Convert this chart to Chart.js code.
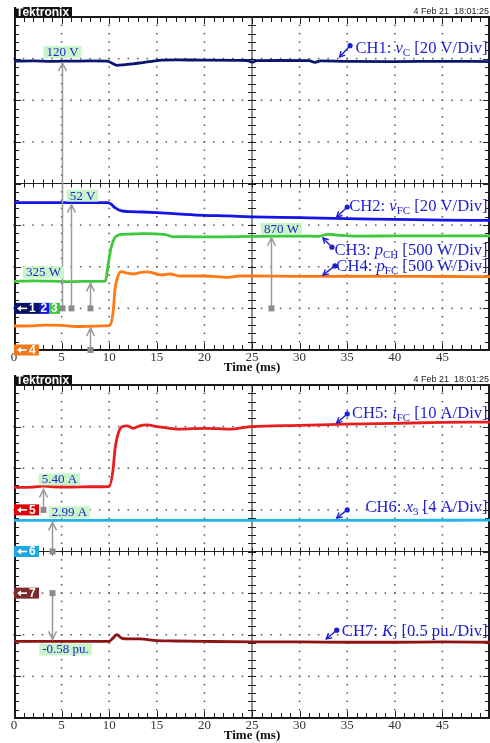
<!DOCTYPE html>
<html>
<head>
<meta charset="utf-8">
<script src="https://cdn.jsdelivr.net/npm/chart.js@4/dist/chart.umd.min.js"></script>
<style>
  html, body { margin: 0; padding: 0; background: #fff; }
  body { width: 490px; height: 743px; position: relative; overflow: hidden; }
  canvas { position: absolute; left: 0; }
  #scopeTop { top: 0; }
  #scopeBottom { top: 373px; }
</style>
</head>
<body>
<canvas id="scopeTop" width="490" height="375"></canvas>
<canvas id="scopeBottom" width="490" height="370"></canvas>
<script>
// ---- time axis (ms) ----
const timeTicks = [0, 5, 10, 15, 20, 25, 30, 35, 40, 45];

// ---- CH1: capacitor voltage vC (V) ----
const ch1Time  = [0, 2, 4, 6, 8, 9.8, 10.3, 10.8, 11.5, 12.5, 13.5, 14.5, 15.5, 17, 20, 24.5, 25, 25.5, 28, 31, 31.6, 32.2, 35, 40, 45, 50];
const ch1Volts = [120, 120.1, 119.9, 120, 120.1, 120, 119, 118, 118.2, 118.7, 119.3, 119.9, 120.5, 120.6, 120.5, 120.3, 119.5, 120.2, 120.3, 120.2, 119.4, 120.1, 119.9, 119.8, 119.9, 119.8];

// ---- CH2: fuel-cell voltage vFC (V) ----
const ch2Time  = [0, 5, 9.8, 10.2, 10.6, 11.3, 12.2, 13.5, 15, 17.5, 20, 22.5, 25, 30, 35, 40, 45, 50];
const ch2Volts = [52, 52, 52, 51.3, 49.6, 48, 47.7, 47.5, 47.2, 46.5, 45.9, 45.6, 45.2, 44.8, 44.3, 44, 43.6, 43.5];

// ---- CH3: power pCH (W) ----
const ch3Time  = [0, 2, 4, 6, 8, 9.6, 9.9, 10.2, 10.6, 11.1, 12, 13, 14, 15, 16, 16.7, 18, 20, 22, 25, 28, 30, 32, 33, 34, 36, 40, 45, 50];
const ch3Power = [325, 330, 327, 322, 325, 328, 535, 731, 851, 885, 892, 895, 899, 893, 883, 860, 862, 858, 860, 865, 868, 868, 866, 890, 880, 868, 870, 872, 872];

// ---- CH4: fuel-cell power pFC (W) ----
const ch4Time  = [0, 2, 3.5, 5, 6.5, 8, 9.5, 10, 10.4, 10.6, 10.9, 11.3, 11.9, 12.5, 13.2, 14, 15, 15.6, 16.4, 17.4, 20, 22.5, 23.7, 25, 30, 35, 40, 45, 50];
const ch4Power = [288, 290, 300, 296, 282, 285, 290, 292, 441, 721, 881, 941, 922, 913, 929, 938, 913, 901, 913, 889, 889, 873, 889, 889, 885, 886, 884, 883, 881];

// ---- CH5: fuel-cell current iFC (A) ----
const ch5Time = [0, 2, 3, 4, 6, 8, 10, 10.4, 10.6, 10.9, 11.3, 11.9, 12.5, 13.2, 14, 15, 16.4, 17.4, 20, 22.7, 24.8, 30, 35, 40, 45, 50];
const ch5Amps = [5.4, 5.45, 5.7, 5.55, 5.5, 5.55, 5.6, 9.6, 14.4, 18, 19.9, 20.2, 19.6, 20.2, 20.4, 20, 19.6, 19.4, 19.6, 19.4, 20, 20.3, 20.6, 20.8, 21, 21.1];

// ---- CH6: state x3 (A) ----
const ch6Time = [0, 10, 20, 30, 40, 50];
const ch6Amps = [2.99, 2.99, 3.0, 2.99, 3.0, 3.01];

// ---- CH7: KJ (pu.) ----
const ch7Time = [0, 5, 10, 10.4, 10.8, 11.3, 12, 13.2, 15, 17, 20, 25, 30, 35, 40, 45, 50];
const ch7Pu   = [-0.58, -0.58, -0.58, -0.54, -0.50, -0.54, -0.55, -0.55, -0.57, -0.575, -0.58, -0.585, -0.585, -0.59, -0.59, -0.585, -0.59];

// ---- cursor readouts ----
const topReadouts = [120, 52, 325, 870];
const bottomReadouts = [5.40, 2.99, -0.58];

// ---- fonts / colours ----
const SERIF = "'Liberation Serif','Times New Roman',serif";
const SANS = "'Liberation Sans',Arial,sans-serif";
const NOTE_BLUE = '#1e1ed2';
const CURSOR_GREY = '#9a9a9a';

// vertical setup of each channel: ground position (divisions from centre) and units per division
const channelSetup = {
  ch1: { color: '#0c1670', ground: -3.06, perDiv: 20 },
  ch2: { color: '#1414e6', ground: -3.06, perDiv: 20 },
  ch3: { color: '#3ec83c', ground: -3.0,  perDiv: 500 },
  ch4: { color: '#ff7a14', ground: -4.0,  perDiv: 500 },
  ch5: { color: '#e61e1e', ground: 1.0,   perDiv: 10 },
  ch6: { color: '#22b4e6', ground: 0.0,   perDiv: 4 },
  ch7: { color: '#8c1414', ground: -1.0,  perDiv: 0.5 }
};

function valueAt(times, values, t) {
  for (let i = 0; i < times.length - 1; i++) {
    if (t >= times[i] && t <= times[i + 1]) {
      const f = (t - times[i]) / (times[i + 1] - times[i]);
      return values[i] + f * (values[i + 1] - values[i]);
    }
  }
  return values[values.length - 1];
}

function fmt(v, digits, unit) { return v.toFixed(digits) + ' ' + unit; }

function trace(id, times, values) {
  return {
    label: id.toUpperCase(),
    yAxisID: id,
    data: times.map((t, i) => ({ x: t, y: values[i] })),
    borderColor: channelSetup[id].color,
    borderWidth: 2.8,
    pointRadius: 0,
    fill: false,
    cubicInterpolationMode: 'monotone'
  };
}

function channelScale(id) {
  const c = channelSetup[id];
  return { type: 'linear', axis: 'y', position: 'left', display: false,
           min: (-4 - c.ground) * c.perDiv, max: (4 - c.ground) * c.perDiv };
}

// ---------- drawing helpers ----------
function line(ctx, x1, y1, x2, y2) { ctx.beginPath(); ctx.moveTo(x1, y1); ctx.lineTo(x2, y2); ctx.stroke(); }

function drawGraticule(chart) {
  const ctx = chart.ctx;
  const { left, right, top, bottom } = chart.chartArea;
  const xs = chart.scales.x, ds = chart.scales.div;
  ctx.save();
  // dotted division lines
  ctx.fillStyle = '#555';
  for (let t = 5; t < 50; t += 5) {
    if (t === 25) continue;
    const px = xs.getPixelForValue(t);
    for (let d = -4; d <= 4.001; d += 0.2) {
      const py = ds.getPixelForValue(d);
      ctx.fillRect(px - 0.75, py - 0.75, 1.5, 1.5);
    }
  }
  for (let d = -3; d <= 3; d++) {
    if (d === 0) continue;
    const py = ds.getPixelForValue(d);
    for (let t = 0; t <= 50; t += 1) {
      const px = xs.getPixelForValue(t);
      ctx.fillRect(px - 0.75, py - 0.75, 1.5, 1.5);
    }
  }
  // centre axes with minor ticks
  ctx.strokeStyle = '#222';
  ctx.lineWidth = 1;
  const cy = ds.getPixelForValue(0), cx = xs.getPixelForValue(25);
  line(ctx, left, cy, right, cy);
  line(ctx, cx, top, cx, bottom);
  for (let t = 0; t <= 50; t += 1) {
    const px = Math.round(xs.getPixelForValue(t)) + 0.5;
    const major = t % 5 === 0;
    line(ctx, px, cy - 4, px, cy + 4);
    line(ctx, px, top, px, top + (major ? 7 : 5));
    line(ctx, px, bottom, px, bottom - (major ? 7 : 5));
  }
  for (let i = -20; i <= 20; i++) {
    const py = Math.round(ds.getPixelForValue(i / 5)) + 0.5;
    const major = i % 5 === 0;
    line(ctx, cx - 4, py, cx + 4, py);
    line(ctx, left, py, left + (major ? 7 : 5), py);
    line(ctx, right, py, right - (major ? 7 : 5), py);
  }
  // frame
  ctx.lineWidth = 2;
  ctx.strokeStyle = '#1a1a1a';
  ctx.strokeRect(left + 1, top, right - left - 2, bottom - top);
  ctx.restore();
}

function drawHeader(chart) {
  const ctx = chart.ctx;
  const { left, right, top } = chart.chartArea;
  ctx.save();
  ctx.fillStyle = '#111';
  ctx.fillRect(left, top - 10, 58, 10);
  ctx.fillStyle = '#fff';
  ctx.font = `bold 12px ${SANS}`;
  ctx.textBaseline = 'middle';
  ctx.textAlign = 'left';
  ctx.fillText('Tektronix', left + 2, top - 4.5);
  ctx.fillStyle = '#222';
  ctx.font = `9px ${SANS}`;
  ctx.textAlign = 'right';
  ctx.fillText('4 Feb 21  18:01:25', right - 1, top - 5);
  ctx.restore();
}

function drawCursor(chart, c) {
  const ctx = chart.ctx;
  const xs = chart.scales.x, ds = chart.scales.div, cs = chart.scales[c.ch];
  const x = Math.round(xs.getPixelForValue(c.t)) + 0.5;
  const y0 = ds.getPixelForValue(c.base);
  const yv = cs.getPixelForValue(c.value);
  const dir = yv < y0 ? 1 : -1;           // 1: arrow points up
  const tip = yv + dir * 2;
  ctx.save();
  ctx.strokeStyle = CURSOR_GREY;
  ctx.fillStyle = '#8c8c8c';
  ctx.lineWidth = 1.5;
  line(ctx, x, y0, x, tip);
  ctx.beginPath();
  ctx.moveTo(x - 4, tip + dir * 8);
  ctx.lineTo(x, tip);
  ctx.lineTo(x + 4, tip + dir * 8);
  ctx.stroke();
  ctx.fillRect(x - 3, y0 - 3, 6, 6);
  if (c.text) {
    ctx.font = `13px ${SERIF}`;
    const w = ctx.measureText(c.text).width + 6;
    const bx = x + c.dx, by = yv + c.dy;
    ctx.fillStyle = 'rgb(200,246,200)';
    ctx.fillRect(bx - w / 2, by - 6, w, 12);
    ctx.fillStyle = NOTE_BLUE;
    ctx.textAlign = 'center';
    ctx.textBaseline = 'middle';
    ctx.fillText(c.text, bx, by + 0.5);
  }
  ctx.restore();
}

function drawTag(chart, tag) {
  const ctx = chart.ctx;
  const left = chart.chartArea.left;
  const y = chart.scales.div.getPixelForValue(tag.d);
  const h = 11;
  let x = left;
  ctx.save();
  ctx.font = `bold 12px ${SANS}`;
  ctx.textBaseline = 'middle';
  ctx.textAlign = 'left';
  tag.parts.forEach((p, i) => {
    const w = i === 0 ? 25 : 10.5;
    ctx.fillStyle = p[1];
    ctx.fillRect(x, y - h / 2, w, h);
    ctx.fillStyle = '#fff';
    ctx.strokeStyle = '#fff';
    if (i === 0) {
      ctx.lineWidth = 1.6;
      line(ctx, x + 4, y, x + 13, y);
      ctx.beginPath();
      ctx.moveTo(x + 3, y);
      ctx.lineTo(x + 7, y - 3);
      ctx.lineTo(x + 7, y + 3);
      ctx.closePath();
      ctx.fill();
      ctx.fillText(p[0], x + 15, y + 0.5);
    } else {
      ctx.fillText(p[0], x + 1.5, y + 0.5);
    }
    x += w;
  });
  ctx.restore();
}

function drawNote(chart, n) {
  const ctx = chart.ctx;
  const xs = chart.scales.x, ds = chart.scales.div;
  const dx = xs.getPixelForValue(n.dot[0]), dy = ds.getPixelForValue(n.dot[1]);
  const tx = xs.getPixelForValue(n.tip[0]), ty = ds.getPixelForValue(n.tip[1]);
  ctx.save();
  ctx.strokeStyle = NOTE_BLUE;
  ctx.fillStyle = NOTE_BLUE;
  ctx.lineWidth = 1.4;
  line(ctx, dx, dy, tx, ty);
  const a = Math.atan2(ty - dy, tx - dx);
  ctx.beginPath();
  ctx.moveTo(tx - 6 * Math.cos(a - 0.5), ty - 6 * Math.sin(a - 0.5));
  ctx.lineTo(tx, ty);
  ctx.lineTo(tx - 6 * Math.cos(a + 0.5), ty - 6 * Math.sin(a + 0.5));
  ctx.stroke();
  ctx.beginPath();
  ctx.arc(dx, dy, 2.6, 0, Math.PI * 2);
  ctx.fill();
  // rich text, right aligned
  const size = 16.6;
  const fonts = { r: `${size}px ${SERIF}`, i: `italic ${size}px ${SERIF}`, s: `11px ${SERIF}` };
  let w = 0;
  n.segs.forEach(([s, k]) => { ctx.font = fonts[k]; w += ctx.measureText(s).width; });
  let x = xs.getPixelForValue(49.75) - w;
  const base = ds.getPixelForValue(n.textDiv) + size * 0.33;
  ctx.textBaseline = 'alphabetic';
  ctx.textAlign = 'left';
  n.segs.forEach(([s, k]) => {
    ctx.font = fonts[k];
    ctx.fillText(s, x, k === 's' ? base + 3 : base);
    x += ctx.measureText(s).width;
  });
  ctx.restore();
}

const scopePlugin = {
  id: 'scope',
  beforeDatasetsDraw(chart, args, opts) { drawGraticule(chart); },
  afterDatasetsDraw(chart, args, opts) {
    drawHeader(chart);
    opts.cursors.forEach(c => drawCursor(chart, c));
    opts.tags.forEach(t => drawTag(chart, t));
    opts.notes.forEach(n => drawNote(chart, n));
  }
};

function makeOptions(padTop, scopeOpts, ids) {
  const scales = {
    x: {
      type: 'linear', min: 0, max: 50,
      afterFit(scale) { scale.height = 25; },
      afterBuildTicks(scale) { scale.ticks = timeTicks.map(v => ({ value: v })); },
      grid: { display: false, drawTicks: false, tickLength: 0 },
      border: { display: false },
      ticks: { padding: 0, color: '#333', autoSkip: false, maxRotation: 0,
               font: { family: SERIF, size: 13 } },
      title: { display: true, text: 'Time (ms)', color: '#111', padding: 0,
               font: { family: SERIF, size: 13, weight: 'bold' } }
    },
    div: { type: 'linear', axis: 'y', position: 'left', display: false, min: -4, max: 4 }
  };
  ids.forEach(id => { scales[id] = channelScale(id); });
  return {
    responsive: false,
    animation: false,
    events: [],
    layout: { padding: { top: padTop, left: 14, right: 0, bottom: 0 } },
    plugins: { legend: { display: false }, tooltip: { enabled: false }, scope: scopeOpts },
    scales
  };
}

// ---------- upper screen: CH1..CH4 ----------
new Chart(document.getElementById('scopeTop'), {
  type: 'line',
  data: { datasets: [
    trace('ch1', ch1Time, ch1Volts),
    trace('ch2', ch2Time, ch2Volts),
    trace('ch3', ch3Time, ch3Power),
    trace('ch4', ch4Time, ch4Power)
  ] },
  options: makeOptions(17, {
    cursors: [
      { ch: 'ch1', t: 5, base: -3, value: topReadouts[0], text: fmt(topReadouts[0], 0, 'V'), dx: 0, dy: -9 },
      { ch: 'ch2', t: 6, base: -3, value: topReadouts[1], text: fmt(topReadouts[1], 0, 'V'), dx: 11, dy: -7 },
      { ch: 'ch3', t: 8, base: -3, value: topReadouts[2], text: fmt(topReadouts[2], 0, 'W'), dx: -47, dy: -9 },
      { ch: 'ch4', t: 8, base: -4, value: valueAt(ch4Time, ch4Power, 8) },
      { ch: 'ch3', t: 27, base: -3, value: topReadouts[3], text: fmt(topReadouts[3], 0, 'W'), dx: 10, dy: -7 }
    ],
    tags: [
      { d: -3, parts: [['1', '#0a1464'], ['2', '#1414e6'], ['3', '#3ec83c']] },
      { d: -4, parts: [['4', '#f07818']] }
    ],
    notes: [
      { segs: [['CH1: ', 'r'], ['v', 'i'], ['C', 's'], [' [20 V/Div]', 'r']], dot: [35.3, 3.31], tip: [34.2, 3.04], textDiv: 3.26 },
      { segs: [['CH2: ', 'r'], ['v', 'i'], ['FC', 's'], [' [20 V/Div]', 'r']], dot: [35.0, -0.565], tip: [33.9, -0.805], textDiv: -0.52 },
      { segs: [['CH3: ', 'r'], ['p', 'i'], ['CH', 's'], [' [500 W/Div]', 'r']], dot: [33.4, -1.53], tip: [32.46, -1.31], textDiv: -1.58 },
      { segs: [['CH4: ', 'r'], ['p', 'i'], ['FC', 's'], [' [500 W/Div]', 'r']], dot: [33.7, -1.98], tip: [32.46, -2.2], textDiv: -1.98 }
    ]
  }, ['ch1', 'ch2', 'ch3', 'ch4']),
  plugins: [scopePlugin]
});

// ---------- lower screen: CH5..CH7 ----------
new Chart(document.getElementById('scopeBottom'), {
  type: 'line',
  data: { datasets: [
    trace('ch5', ch5Time, ch5Amps),
    trace('ch6', ch6Time, ch6Amps),
    trace('ch7', ch7Time, ch7Pu)
  ] },
  options: makeOptions(12, {
    cursors: [
      { ch: 'ch5', t: 3, base: 1, value: bottomReadouts[0], text: fmt(bottomReadouts[0], 2, 'A'), dx: 16, dy: -8 },
      { ch: 'ch6', t: 4, base: 0, value: bottomReadouts[1], text: fmt(bottomReadouts[1], 2, 'A'), dx: 17, dy: -8 },
      { ch: 'ch7', t: 4, base: -1, value: bottomReadouts[2], text: fmt(bottomReadouts[2], 2, 'pu.'), dx: 13, dy: 8 }
    ],
    tags: [
      { d: 1, parts: [['5', '#e00000']] },
      { d: 0, parts: [['6', '#1aa8e0']] },
      { d: -1, parts: [['7', '#7f2a2a']] }
    ],
    notes: [
      { segs: [['CH5: ', 'r'], ['i', 'i'], ['FC', 's'], [' [10 A/Div]', 'r']], dot: [35.0, 3.305], tip: [33.9, 3.09], textDiv: 3.33 },
      { segs: [['CH6: ', 'r'], ['x', 'i'], ['3', 's'], [' [4 A/Div]', 'r']], dot: [35.0, 1.0], tip: [33.9, 0.805], textDiv: 1.07 },
      { segs: [['CH7: ', 'r'], ['K', 'i'], ['J', 's'], [' [0.5 pu./Div]', 'r']], dot: [33.9, -1.89], tip: [32.8, -2.1], textDiv: -1.89 }
    ]
  }, ['ch5', 'ch6', 'ch7']),
  plugins: [scopePlugin]
});
</script>
</body>
</html>
